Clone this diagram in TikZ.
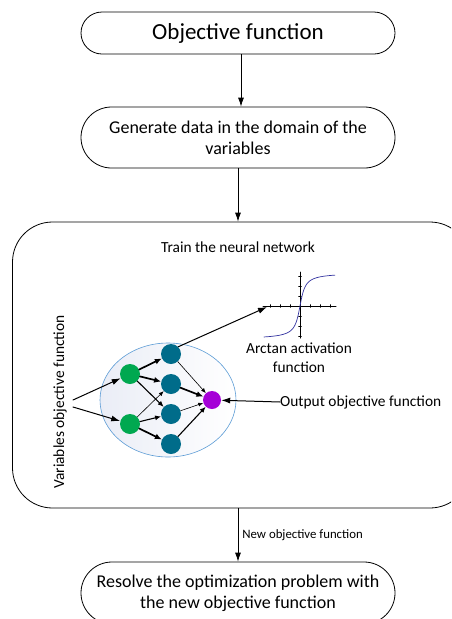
\documentclass[tikz,border=0pt]{standalone}
\usepackage{fontspec}
\setmainfont{Carlito}
\usetikzlibrary{arrows.meta,shapes.misc,shapes.geometric}

\definecolor{nngreen}{RGB}{0,168,80}
\definecolor{nnteal}{RGB}{0,108,138}
\definecolor{nnpurple}{RGB}{165,0,215}
\definecolor{ellblue}{RGB}{91,155,213}
\definecolor{ellfill}{RGB}{234,237,246}
\definecolor{curveblue}{RGB}{50,50,160}

\tikzset{
  flowbox/.style={draw, line width=0.8pt, rounded rectangle, minimum width=314pt, inner sep=0pt, align=center},
  flowarrow/.style={-{Latex[length=9pt,width=6pt]}, line width=0.8pt},
  neuron/.style={circle, inner sep=0pt, minimum size=20pt},
  lnkthin/.style={-{Latex[length=5pt,width=4pt]}, line width=0.6pt},
  lnkmid/.style={-{Latex[length=6pt,width=5pt]}, line width=1.1pt},
  lnkthick/.style={-{Latex[length=7pt,width=6pt]}, line width=1.7pt},
  lbl/.style={font=\fontsize{15.4}{19}\selectfont, inner sep=0pt, align=center},
}

\begin{document}
\begin{tikzpicture}[x=1pt,y=-1pt,line cap=round]
        \useasboundingbox (0,0) rectangle (451,619);
        \clip (0,0) rectangle (451,619);
        % flow boxes
        \node[flowbox, minimum height=42pt, font=\fontsize{23}{27}\selectfont] (obj) at (238,33) {Objective function};
        \node[flowbox, minimum height=61pt, font=\fontsize{18}{21}\selectfont] (gen) at (238,137.5) {Generate data in the domain of the\\variables};
        \node[draw, line width=0.8pt, rectangle, rounded corners=40pt, minimum width=457.5pt, minimum height=286pt] (train) at (241.25,365) {};
        \node[flowbox, minimum height=62pt, font=\fontsize{18}{21}\selectfont] (res) at (238,593) {Resolve the optimization problem with\\the new objective function};
        % flow arrows
        \draw[flowarrow] ([xshift=3pt]obj.south) -- ([xshift=3pt]gen.north);
        \draw[flowarrow] (gen.south) -- (gen.south |- train.north);
        \draw[flowarrow] (res.north |- train.south) -- node[right, inner sep=4pt, font=\fontsize{12.8}{15}\selectfont] {New objective function} (res.north);
        % inside the training box
        \node[lbl] (title) at (238,247) {Train the neural network};
        \node[lbl, rotate=90] (vlbl) at (60,402) {Variables objective function};
        \node[ellipse, draw=ellblue, line width=0.6pt, minimum width=136pt, minimum height=114pt, left color=ellfill, right color=white] (ell) at (168,400) {};
        \node[neuron, fill=nngreen] (g1) at (130,374) {};
        \node[neuron, fill=nngreen] (g2) at (130,424) {};
        \foreach \i/\y in {1/354,2/384,3/414,4/444}
          \node[neuron, fill=nnteal] (h\i) at (171,\y) {};
        \node[neuron, fill=nnpurple, minimum size=18pt] (out) at (212,400) {};
        % links
        \draw[lnkthick] (g1) -- (h1);
        \draw[lnkthick] (g1) -- (h2);
        \draw[lnkmid] (g1) -- (h3);
        \draw[lnkthin] (g2) -- (h2);
        \draw[lnkmid] (g2) -- (h3);
        \draw[lnkthick] (g2) -- (h4);
        \draw[lnkthin] (h1) -- (out);
        \draw[lnkthick] (h2) -- (out);
        \draw[lnkthin] (h3) -- (out);
        \draw[lnkmid] (h4) -- (out);
        % inputs
        \coordinate (vin1) at (73,400);
        \coordinate (vin2) at (73,407);
        \draw[flowarrow, line width=1pt] (vin1) -- (g1);
        \draw[flowarrow, line width=1pt] (vin2) -- (g2);
        % arctan plot
        \begin{scope}[shift={(300,306)}]
          \coordinate (act) at (-33,1);
          \draw[line width=1pt] (-37,0) -- (36,0);
          \draw[line width=1pt] (0,-34) -- (0,32);
          \foreach \t in {-30,-20,...,30} \draw[line width=0.3pt] (\t,-1.5) -- (\t,1.5);
          \foreach \t in {-30,-20,...,30} \draw[line width=0.3pt] (-1.5,\t) -- (1.5,\t);
          \draw[curveblue, line width=0.7pt, domain=-36:35, samples=100, smooth] plot (\x,{-0.37*atan(\x/4)});
        \end{scope}
        \draw[flowarrow, line width=1pt] (h1.north east) -- (act);
        \node[lbl] (actlbl) at (299,357.5) {Arctan activation\\function};
        \node[lbl, anchor=west] (outlbl) at (280,402) {Output objective function};
        \draw[flowarrow, line width=1pt] (outlbl.west) -- (out);
    \end{tikzpicture}
\end{document}
